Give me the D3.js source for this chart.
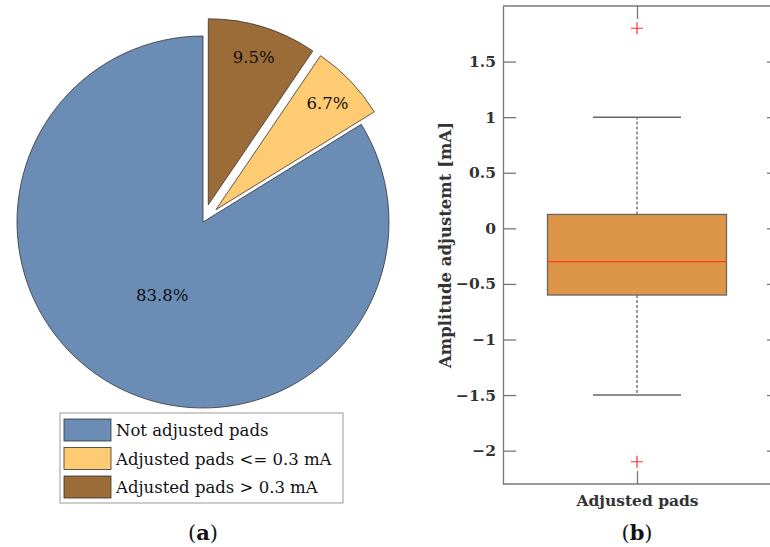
<!DOCTYPE html>
<html>
<head>
<meta charset="utf-8">
<script src="https://cdn.jsdelivr.net/npm/d3@7"></script>
<style>
  body { margin: 0; background: #fff; }
  svg { display: block; }
  text { font-family: "DejaVu Serif", "Liberation Serif", serif; }
</style>
</head>
<body>
<svg id="chart" width="770" height="547"></svg>
<script>
// pie data (legend order, MATLAB draws counterclockwise from the top)
const categories = ["Not adjusted pads", "Adjusted pads <= 0.3 mA", "Adjusted pads > 0.3 mA"];
const shares = [83.8, 6.7, 9.5];
const exploded = [false, true, true];
const pieColors = ["#6b8cb5", "#fecb72", "#9b6b38"];

// box plot data
const boxGroup = ["Adjusted pads"];
const boxStats = { lowWhisker: -1.5, q1: -0.6, median: -0.3, q3: 0.125, highWhisker: 1.0 };
const outliers = [1.8, -2.1];
const yTicks = [-2, -1.5, -1, -0.5, 0, 0.5, 1, 1.5];

const svg = d3.select("#chart");

// ---------- (a) pie ----------
const cx = 203, cy = 222, r = 186, explodeDist = 18;
const pieGen = d3.pie().sort(null).startAngle(0).endAngle(-2 * Math.PI);
const arcs = pieGen(shares);
const arcGen = d3.arc().innerRadius(0).outerRadius(r);

const pieG = svg.append("g").attr("transform", "translate(" + cx + "," + cy + ")");

arcs.forEach((a, i) => {
  const mid = (a.startAngle + a.endAngle) / 2;
  const off = exploded[i] ? explodeDist : 0;
  const dx = Math.sin(mid) * off, dy = -Math.cos(mid) * off;
  const g = pieG.append("g").attr("transform", "translate(" + dx + "," + dy + ")");
  g.append("path")
    .attr("d", arcGen(a))
    .attr("fill", pieColors[i])
    .attr("stroke", "#333")
    .attr("stroke-width", 0.8);
  const lr = shares[i] > 50 ? 0.45 * r : 0.83 * r;
  g.append("text")
    .attr("x", Math.sin(mid) * lr)
    .attr("y", -Math.cos(mid) * lr)
    .attr("dy", "0.35em")
    .attr("text-anchor", "middle")
    .attr("font-size", 16.5)
    .attr("fill", "#111")
    .text(shares[i].toFixed(1) + "%");
});

// legend
const leg = svg.append("g").attr("transform", "translate(60,413)");
leg.append("rect").attr("width", 283).attr("height", 90)
  .attr("fill", "#fff").attr("stroke", "#999").attr("stroke-width", 1);
categories.forEach((c, i) => {
  const ly = 6 + i * 28.5;
  leg.append("rect").attr("x", 4).attr("y", ly).attr("width", 47).attr("height", 22)
    .attr("fill", pieColors[i]).attr("stroke", "#333").attr("stroke-width", 0.8);
  leg.append("text").attr("x", 56).attr("y", ly + 17)
    .attr("font-size", 16.5).attr("fill", "#111").text(c);
});

svg.append("text").attr("x", 203).attr("y", 540).attr("text-anchor", "middle")
  .attr("font-size", 21).attr("fill", "#111")
  .html('(<tspan font-weight="bold">a</tspan>)');

// ---------- (b) box plot ----------
const axL = 503, axR = 780, axT = 6, axB = 484;
const y = d3.scaleLinear().domain([-2.3, 2]).range([axB, axT]);
const x = d3.scalePoint().domain(boxGroup).range([503, 771]);
const axisColor = "#777";

const yAxis = svg.append("g").attr("transform", "translate(" + axL + ",0)")
  .call(d3.axisLeft(y).tickValues(yTicks).tickFormat(d3.format("~g"))
    .tickSizeInner(-13).tickSizeOuter(0).tickPadding(7));
yAxis.select(".domain").attr("stroke", axisColor).attr("stroke-width", 1.3);
yAxis.selectAll(".tick line").attr("stroke", axisColor).attr("stroke-width", 1.3);
yAxis.selectAll(".tick text").attr("font-size", 15.5).attr("font-weight", "bold")
  .attr("fill", "#333").style("font-family", '"DejaVu Serif", serif');

const yAxisR = svg.append("g").attr("transform", "translate(" + axR + ",0)")
  .call(d3.axisRight(y).tickValues(yTicks).tickFormat("").tickSizeInner(-13).tickSizeOuter(0));
yAxisR.selectAll("line, path").attr("stroke", axisColor).attr("stroke-width", 1.3);

const xAxis = svg.append("g").attr("transform", "translate(0," + axB + ")")
  .call(d3.axisBottom(x).tickSizeInner(-13).tickSizeOuter(0).tickPadding(11));
xAxis.select(".domain").attr("d", "M" + axL + ",0H" + axR)
  .attr("stroke", axisColor).attr("stroke-width", 1.3);
xAxis.selectAll(".tick line").attr("stroke", axisColor).attr("stroke-width", 1.3);
xAxis.selectAll(".tick text").attr("font-size", 15.5).attr("font-weight", "bold")
  .attr("fill", "#333").style("font-family", '"DejaVu Serif", serif');

const xAxisT = svg.append("g").attr("transform", "translate(0," + axT + ")")
  .call(d3.axisTop(x).tickFormat("").tickSizeInner(-13).tickSizeOuter(0));
xAxisT.select(".domain").attr("d", "M" + axL + ",0H" + axR)
  .attr("stroke", axisColor).attr("stroke-width", 1.3);
xAxisT.selectAll(".tick line").attr("stroke", axisColor).attr("stroke-width", 1.3);

const bx = x(boxGroup[0]);
const boxW = 179, capW = 88;

// whiskers
svg.append("line").attr("x1", bx).attr("x2", bx)
  .attr("y1", y(boxStats.q3)).attr("y2", y(boxStats.highWhisker))
  .attr("stroke", "#555").attr("stroke-width", 1.2).attr("stroke-dasharray", "3,2");
svg.append("line").attr("x1", bx).attr("x2", bx)
  .attr("y1", y(boxStats.q1)).attr("y2", y(boxStats.lowWhisker))
  .attr("stroke", "#555").attr("stroke-width", 1.2).attr("stroke-dasharray", "3,2");
[boxStats.highWhisker, boxStats.lowWhisker].forEach(v => {
  svg.append("line").attr("x1", bx - capW / 2).attr("x2", bx + capW / 2)
    .attr("y1", y(v)).attr("y2", y(v)).attr("stroke", "#666").attr("stroke-width", 1.5);
});

// box
svg.append("rect").attr("x", bx - boxW / 2).attr("width", boxW)
  .attr("y", y(boxStats.q3)).attr("height", y(boxStats.q1) - y(boxStats.q3))
  .attr("fill", "#dd9548").attr("stroke", "#666").attr("stroke-width", 1.3);
svg.append("line").attr("x1", bx - boxW / 2).attr("x2", bx + boxW / 2)
  .attr("y1", y(boxStats.median)).attr("y2", y(boxStats.median))
  .attr("stroke", "#ff3f1a").attr("stroke-width", 1.3);

// outliers
outliers.forEach(v => {
  svg.append("path")
    .attr("d", "M" + (bx - 6) + "," + y(v) + "H" + (bx + 6) + "M" + bx + "," + (y(v) - 6) + "V" + (y(v) + 6))
    .attr("stroke", "#ff3030").attr("stroke-width", 1.2).attr("fill", "none");
});

svg.append("text")
  .attr("transform", "translate(451,245) rotate(-90)")
  .attr("text-anchor", "middle").attr("font-size", 16.5).attr("font-weight", "bold")
  .attr("fill", "#333").text("Amplitude adjustemt [mA]");

svg.append("text").attr("x", 637).attr("y", 540).attr("text-anchor", "middle")
  .attr("font-size", 21).attr("fill", "#111")
  .html('(<tspan font-weight="bold">b</tspan>)');
</script>
</body>
</html>
